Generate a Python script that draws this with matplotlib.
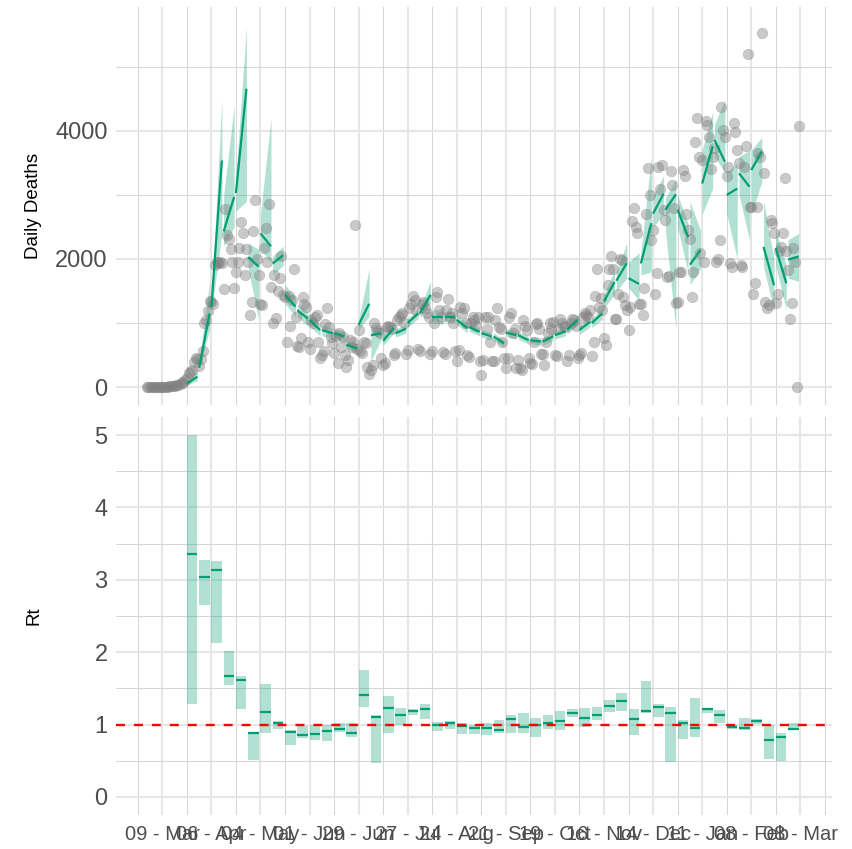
import numpy as np
import matplotlib
matplotlib.use("Agg")
import matplotlib.pyplot as plt
import matplotlib.dates as mdates

plt.rcParams['font.family'] = ['Liberation Sans', 'DejaVu Sans']

# -----------------------------
# Daily deaths, from 29 Feb 2020
# -----------------------------
first_day = np.datetime64("2020-02-29")
daily_deaths = [
    1, 0, 1, 3, 2, 2, 4, 3, 5,
    4, 6, 8, 7, 10, 11, 14,
    22, 25, 35, 48, 80, 62, 110,
    140, 220, 230, 265, 390, 450, 445,
    330, 440, 560, 1000, 1050, 1180, 1340,
    1330, 1290, 1910, 1950, 1940, 1950, 1930,
    1530, 2780, 2370, 2310, 2150, 1960, 1540,
    1790, 1950, 2170, 2580, 2400, 1750, 2160,
    1960, 1120, 1330, 2440, 2920, 2000, 1750,
    1300, 1280, 2170, 2480, 1960, 2860, 1560,
    995, 1750, 1075, 1500, 1710, 2050, 1440,
    1400, 710, 1420, 950, 1360, 1850, 1100,
    640, 620, 760, 1410, 1300, 1250, 700,
    600, 1050, 1000, 1100, 1120, 700, 450,
    500, 560, 980, 1230, 940, 780, 680,
    530, 800, 380, 850, 630, 780, 500,
    320, 420, 740, 630, 700, 2530, 600,
    890, 560, 530, 700, 680, 320, 210,
    270, 340, 1000, 920, 880, 840, 450,
    350, 380, 940, 960, 940, 900, 500,
    530, 1050, 1100, 1130, 1150, 1000, 520,
    580, 1230, 1300, 1420, 1360, 1200, 600,
    560, 1300, 1330, 1230, 1150, 1100, 520,
    560, 1000, 1400, 1490, 1200, 1100, 550,
    520, 1200, 1380, 1100, 1150, 1000, 560,
    400, 580, 1250, 1150, 1230, 1000, 500,
    470, 1000, 1100, 1050, 960, 1100, 400,
    190, 420, 1100, 900, 1100, 700, 400,
    400, 1050, 1230, 940, 900, 700, 450,
    290, 450, 1100, 1150, 840, 900, 290,
    420, 290, 270, 1050, 950, 890, 450,
    380, 360, 700, 980, 1000, 900, 520,
    520, 340, 700, 840, 1000, 900, 1020,
    500, 480, 900, 1070, 1000, 950, 940,
    400, 500, 1000, 1070, 1050, 950, 450,
    500, 530, 1100, 1150, 1130, 1100, 1200,
    490, 710, 1420, 1850, 1250, 1390, 1200,
    760, 660, 1600, 1840, 2040, 1850, 1060,
    1070, 1460, 2000, 1990, 1410, 1280, 1200,
    890, 1250, 2600, 2800, 2500, 2400, 1300,
    1300, 1130, 1540, 2700, 3420, 3000, 2300,
    2450, 1460, 1780, 3440, 3100, 3470, 2770,
    2610, 1720, 1730, 3370, 3160, 2790, 1310,
    1330, 1800, 1800, 3390, 3290, 2700, 2450,
    2320, 1410, 1800, 3830, 4200, 3600, 2090,
    3550, 1960, 4150, 4090, 3910, 3400, 3600,
    3730, 1960, 2000, 2300, 4380, 4020, 3910,
    3300, 3440, 1930, 1880, 4120, 3990, 3700,
    3500, 1910, 1880, 3440, 3760, 5200, 2820,
    2820, 1460, 1620, 2820, 3650, 3600, 5530,
    3340, 1330, 1230, 1280, 2610, 2560, 2400,
    1310, 1460, 2120, 2190, 2400, 3260, 2120,
    1830, 1070, 1310, 2170, 1960, 5, 4080,
]

# -----------------------------
# Weekly fits (weeks start 23 Mar 2020)
# -----------------------------
first_week = np.datetime64("2020-03-23")
fit_start = [57, 300, 1250, 2430, 3030, 2030, 2400, 1930, 1440, 1200,
             1050, 890, 840, 660, 970, 810, 720, 840, 1000, 1150,
             1100, 1100, 1050, 940, 840, 790, 850, 810, 730, 710,
             810, 900, 890, 1000, 1340, 1660, 1700, 1930, 2710, 2770,
             2770, 1910, 3180, 3860, 3000, 3340, 3390, 2190, 2170, 1990]
fit_end = [160, 1150, 3540, 2970, 4660, 1880, 2200, 2060, 1255, 1070,
           890, 840, 790, 600, 1300, 840, 920, 910, 1150, 1440,
           1100, 1100, 920, 860, 790, 680, 810, 730, 710, 790,
           870, 1050, 1020, 1150, 1640, 1935, 1610, 2560, 3020, 3010,
           2340, 2140, 3760, 3520, 3100, 3130, 3680, 1590, 1620, 2040]
band_lo_start = [30, 260, 1150, 2200, 2750, 1850, 2150, 1750, 1300, 1100,
                 950, 800, 760, 600, 900, 400, 650, 780, 930, 1080,
                 1000, 1020, 980, 870, 780, 730, 790, 750, 680, 650,
                 750, 830, 820, 930, 1230, 1500, 1550, 1750, 2500, 2450,
                 2500, 1600, 2700, 3600, 2700, 3000, 2700, 1880, 1900, 1700]
band_lo_end = [100, 900, 2400, 2500, 2900, 1050, 1950, 1900, 1100, 950,
               800, 760, 700, 540, 1100, 760, 840, 840, 1070, 1300,
               980, 1010, 850, 800, 730, 620, 750, 670, 650, 730,
               800, 970, 940, 1060, 1450, 1700, 1350, 1800, 2700, 900,
               1780, 1850, 3100, 3350, 2000, 2300, 3200, 1180, 1200, 1650]
band_hi_start = [90, 380, 1350, 3000, 3300, 2250, 2700, 2050, 1600, 1300,
                 1150, 980, 920, 720, 1050, 950, 800, 900, 1070, 1230,
                 1200, 1180, 1130, 1010, 900, 850, 910, 870, 790, 770,
                 870, 970, 960, 1070, 1450, 1800, 1950, 2100, 3000, 2950,
                 3000, 2900, 3700, 4100, 3350, 3600, 3700, 2920, 2450, 2300]
band_hi_end = [260, 1650, 4500, 4400, 5630, 2150, 4200, 2200, 1400, 1180,
               980, 920, 880, 670, 1850, 920, 1000, 990, 1240, 1650,
               1220, 1190, 1000, 930, 850, 740, 870, 790, 770, 850,
               940, 1130, 1100, 1240, 1830, 2250, 2100, 3600, 3300, 3250,
               2550, 2450, 4300, 4500, 3500, 3700, 3900, 1990, 1900, 2400]

# -----------------------------
# Weekly Rt
# -----------------------------
rt_mean = [3.35, 3.04, 3.13, 1.665, 1.61, 0.89, 1.167, 1.025, 0.895, 0.85,
           0.867, 0.913, 0.945, 0.877, 1.407, 1.098, 1.227, 1.13, 1.185, 1.21,
           1.0, 1.015, 0.982, 0.955, 0.955, 0.92, 1.07, 0.968, 0.99, 1.015,
           1.05, 1.162, 1.093, 1.134, 1.259, 1.324, 1.07, 1.181, 1.236, 1.162,
           1.024, 0.946, 1.209, 1.126, 0.968, 0.946, 1.05, 0.784, 0.83, 0.936]
rt_lo = [1.29, 2.65, 2.13, 1.545, 1.22, 0.51, 0.885, 0.945, 0.715, 0.82,
         0.79, 0.775, 0.90, 0.83, 1.245, 0.475, 0.89, 0.99, 1.13, 1.075,
         0.913, 0.945, 0.867, 0.867, 0.853, 0.89, 0.877, 0.89, 0.83, 0.945,
         0.93, 1.098, 0.968, 1.06, 1.167, 1.19, 0.853, 1.153, 1.098, 0.484,
         0.794, 0.821, 1.153, 1.015, 0.945, 0.922, 1.005, 0.517, 0.498, 0.922]
rt_hi = [5.0, 3.27, 3.26, 2.02, 1.67, 0.90, 1.555, 1.05, 0.92, 0.98,
         1.0, 0.99, 1.015, 1.015, 1.75, 1.13, 1.40, 1.235, 1.22, 1.28,
         1.04, 1.05, 1.025, 0.99, 1.025, 1.06, 1.13, 1.153, 1.084, 1.13,
         1.185, 1.217, 1.227, 1.236, 1.337, 1.43, 1.209, 1.605, 1.282, 1.236,
         1.06, 1.369, 1.222, 1.199, 0.99, 1.084, 1.07, 0.99, 0.89, 1.024]

green = "#009E73"
grid_major = "#E6E6E6"
grid_minor = "#D6D6D6"

days = first_day + np.arange(len(daily_deaths))
week_start = first_week + 7 * np.arange(len(rt_mean))
week_end = week_start + 6

fig = plt.figure(figsize=(8.53, 8.49), dpi=100)
ax1 = fig.add_axes([116 / 853, 1 - 405 / 849, 716 / 853, 398 / 849])
ax2 = fig.add_axes([116 / 853, 1 - 815 / 849, 716 / 853, 398 / 849])

# Daily deaths panel
for i in range(len(fit_start)):
    xs = [week_start[i], week_end[i]]
    ax1.fill_between(xs, [band_lo_start[i], band_lo_end[i]],
                     [band_hi_start[i], band_hi_end[i]],
                     color=green, alpha=0.3, lw=0, zorder=2)
ax1.scatter(days, daily_deaths, s=58, color="#7F7F7F", alpha=0.42,
            edgecolors="#7F7F7F", linewidths=0.4, zorder=3)
for i in range(len(fit_start)):
    ax1.plot([week_start[i], week_end[i]], [fit_start[i], fit_end[i]],
             color=green, lw=1.6, solid_capstyle="butt", zorder=4)

# Rt panel
for i in range(len(rt_mean)):
    xs = [week_start[i], week_end[i]]
    ax2.fill_between(xs, [rt_lo[i]] * 2, [rt_hi[i]] * 2,
                     color=green, alpha=0.3, lw=0, zorder=2)
    ax2.plot(xs, [rt_mean[i]] * 2, color=green, lw=1.6,
             solid_capstyle="butt", zorder=3)
ax2.axhline(1, color="red", lw=1.7, dashes=(3.8, 3.8), zorder=4)

# Axes styling
origin = mdates.date2num(np.datetime64("2020-03-09"))
major_x = origin + 28 * np.arange(14)
minor_x = origin - 14 + 28 * np.arange(15)

for ax in (ax1, ax2):
    ax.set_xlim(origin - 26.41, origin + 382.06)
    ax.set_xticks(major_x)
    ax.set_xticks(minor_x, minor=True)
    ax.grid(which="major", color=grid_major, lw=1.5, zorder=0)
    ax.grid(which="minor", color=grid_minor, lw=0.75, zorder=0)
    ax.set_axisbelow(True)
    for s in ax.spines.values():
        s.set_visible(False)
    ax.tick_params(which="both", length=0, labelsize=17, colors="#4D4D4D")
    ax.tick_params(axis="y", pad=6)

ax1.set_ylim(-281, 5937)
ax1.set_yticks([0, 2000, 4000])
ax1.set_yticks([1000, 3000, 5000], minor=True)
ax1.tick_params(axis="x", labelbottom=False)
ax1.set_ylabel("Daily Deaths", fontsize=13.5)
ax1.yaxis.set_label_coords(-0.103, 0.5)

ax2.set_ylim(-0.25, 5.25)
ax2.set_yticks([0, 1, 2, 3, 4, 5])
ax2.set_yticks([0.5, 1.5, 2.5, 3.5, 4.5], minor=True)
ax2.set_xticklabels([mdates.num2date(v).strftime("%d - %b") for v in major_x])
ax2.tick_params(axis="x", labelsize=14.5, pad=7)
ax2.set_ylabel("Rt", fontsize=13.5)
ax2.yaxis.set_label_coords(-0.103, 0.5)

fig.savefig("out.png", dpi=100)
